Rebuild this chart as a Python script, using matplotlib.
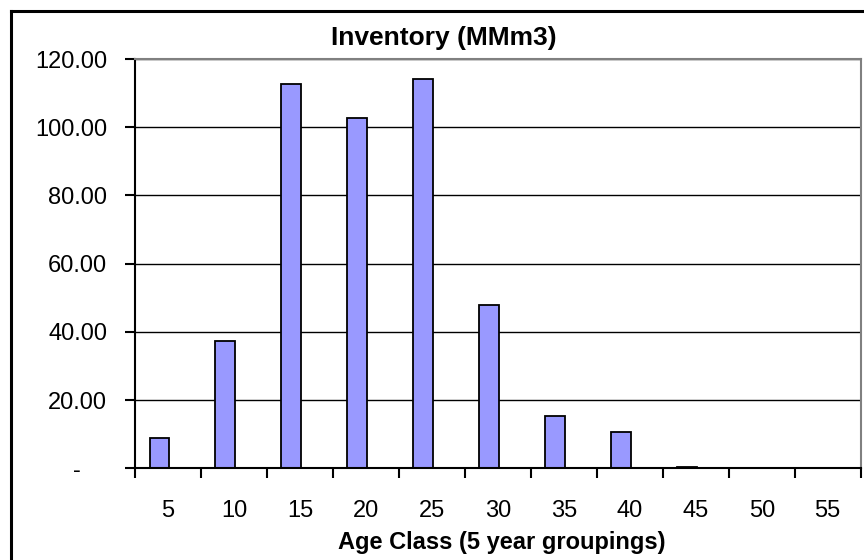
import matplotlib
matplotlib.use("Agg")
import matplotlib.pyplot as plt
from matplotlib.lines import Line2D
from matplotlib.ticker import FixedLocator, NullFormatter
import numpy as np

categories = ["5", "10", "15", "20", "25", "30", "35", "40", "45", "50", "55"]
inventory = [9.0, 37.2, 112.8, 102.8, 114.0, 47.8, 15.2, 10.6, 0.4, 0.0, 0.0]
ytick_values = [0, 20, 40, 60, 80, 100, 120]
ytick_labels = ["-    ", "20.00", "40.00", "60.00", "80.00", "100.00", "120.00"]

plt.rcParams['font.family'] = ['Liberation Sans', 'DejaVu Sans']

W, H = 864, 560
fig = plt.figure(figsize=(W / 100, H / 100), dpi=100)
ax = fig.add_axes([135 / W, 1 - 468.3 / H, (860.7 - 135) / W, (468.3 - 59) / H])

x = np.arange(len(categories))
ax.bar(x - 0.13, inventory, width=0.30, color="#9999FF", edgecolor="black",
       linewidth=1.3, zorder=3)

ax.set_xlim(-0.5, len(categories) - 0.5)
ax.set_ylim(0, 120)

ax.set_yticks(ytick_values)
ax.set_yticklabels(ytick_labels, fontsize=17)
ax.tick_params(axis="y", direction="out", length=7, width=1.5, pad=13)

ax.set_xticks(x)
ax.set_xticklabels(categories, fontsize=17)
ax.xaxis.set_minor_locator(FixedLocator(np.arange(-0.5, len(categories), 1.0)))
ax.xaxis.set_minor_formatter(NullFormatter())
ax.tick_params(axis="x", which="major", length=0, pad=23)
ax.tick_params(axis="x", which="minor", direction="out", length=7, width=1.5)

ax.grid(axis="y", color="black", linewidth=1.0, zorder=0)
ax.set_axisbelow(True)

ax.spines["left"].set_linewidth(1.5)
ax.spines["bottom"].set_linewidth(1.5)
ax.spines["left"].set_color("black")
ax.spines["bottom"].set_color("black")
ax.spines["top"].set_color("#808080")
ax.spines["right"].set_color("#808080")
ax.spines["top"].set_linewidth(1.5)
ax.spines["right"].set_linewidth(1.5)
for s in ax.spines.values():
    s.set_zorder(4)

fig.text(443.5 / W, 1 - 38 / H, "Inventory (MMm3)", fontsize=19, fontweight="bold",
         ha="center", va="center")
fig.text(502 / W, 1 - 542 / H, "Age Class (5 year groupings)", fontsize=17,
         fontweight="bold", ha="center", va="center")

# outer chart border
fig.add_artist(Line2D([11 / W, 1.0], [1 - 11 / H, 1 - 11 / H], color="black",
                      linewidth=2.2, transform=fig.transFigure))
fig.add_artist(Line2D([11 / W, 11 / W], [0.0, 1 - 11 / H], color="black",
                      linewidth=2.2, transform=fig.transFigure))

fig.savefig("out.png", dpi=100)
